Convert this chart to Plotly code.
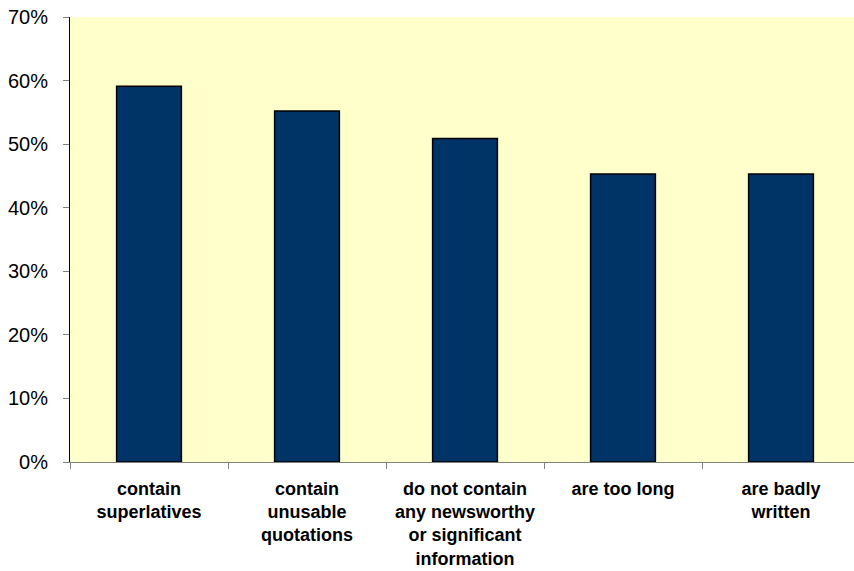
import plotly.graph_objects as go

# Share of respondents citing each problem with press releases
categories = [
    "contain<br>superlatives",
    "contain<br>unusable<br>quotations",
    "do not contain<br>any newsworthy<br>or significant<br>information",
    "are too long",
    "are badly<br>written",
]
shares = [0.591, 0.552, 0.509, 0.453, 0.453]

y_tick_vals = [0, 0.1, 0.2, 0.3, 0.4, 0.5, 0.6, 0.7]

fig = go.Figure(
    go.Bar(
        x=categories,
        y=shares,
        width=0.41,
        marker=dict(color="#003366", line=dict(color="#000000", width=1.5)),
        hoverinfo="skip",
    )
)

fig.update_layout(
    width=854,
    height=571,
    margin=dict(l=70, r=0, t=17, b=109),
    paper_bgcolor="#FFFFFF",
    plot_bgcolor="#FFFFCC",
    showlegend=False,
    font=dict(family="Liberation Sans, Arial, sans-serif", color="#000000"),
)

fig.update_xaxes(
    range=[-0.5, 4.462],
    showgrid=False,
    showline=True,
    linecolor="#808080",
    linewidth=1,
    ticks="outside",
    tickson="boundaries",
    ticklen=6,
    tickcolor="#808080",
    tickfont=dict(size=18, weight="bold"),
    ticklabelstandoff=10,
)

fig.update_yaxes(
    range=[0, 0.7],
    tickvals=y_tick_vals,
    tickformat=".0%",
    showgrid=False,
    zeroline=False,
    showline=True,
    linecolor="#000000",
    linewidth=1,
    ticks="outside",
    ticklen=6,
    tickcolor="#808080",
    tickfont=dict(size=20),
    ticklabelstandoff=11,
)

fig.write_html("out.html")
